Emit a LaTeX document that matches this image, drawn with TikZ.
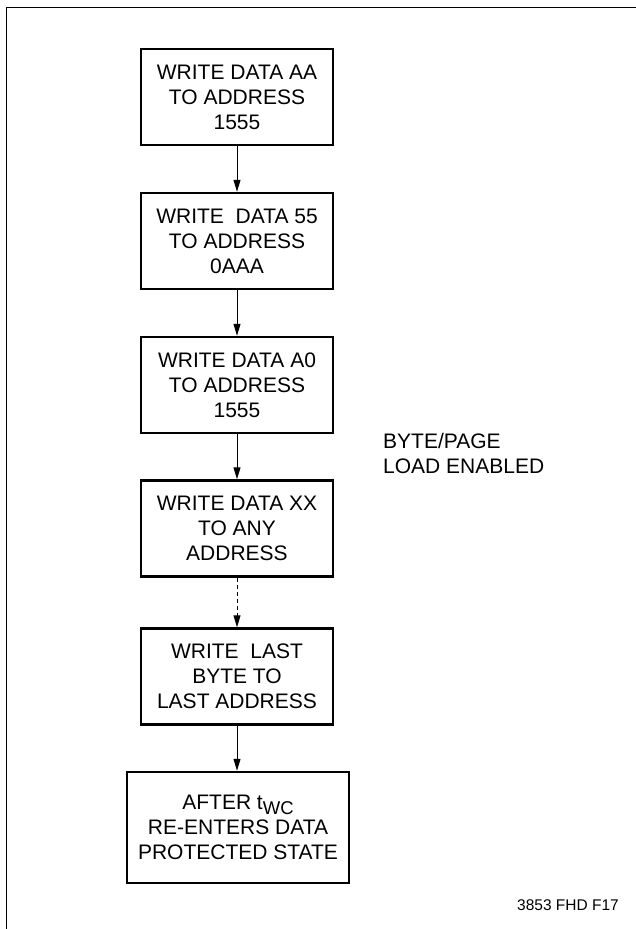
\documentclass[tikz,border=0pt]{standalone}
\usepackage{fontspec}
\setmainfont{Liberation Sans}
\usepackage{tikz}
\usetikzlibrary{arrows.meta}
\newcommand{\subwc}[1]{\raisebox{-5pt}{\fontsize{18.5}{18.5}\selectfont #1}}

\tikzset{
  stepbox/.style={draw, line width=2.5pt, align=center, inner sep=0pt,
    minimum width=192pt, minimum height=96pt, font=\fontsize{21}{25}\selectfont},
  flow/.style={line width=1pt, -{Triangle[length=12pt,width=7pt]}},
}

\begin{document}
\begin{tikzpicture}[x=1pt,y=-1pt]
\useasboundingbox (0,0) rectangle (636,929);
\draw[line width=1.8pt] (636,7.5) -- (6.5,7.5) -- (6.5,929);
\path (237,97) node[stepbox] (aa) {WRITE DATA AA\\TO ADDRESS\\1555};
\path (237,241) node[stepbox] (fivefive) {WRITE\ \ DATA 55\\TO ADDRESS\\0AAA};
\path (237,385) node[stepbox] (azero) {WRITE DATA A0\\TO ADDRESS\\1555};
\path (237,528.5) node[stepbox] (xx) {WRITE DATA XX\\TO ANY\\ADDRESS};
\path (237,676.5) node[stepbox] (last) {WRITE\ \ LAST\\BYTE TO\\LAST ADDRESS};
\path (238,827.5) node[stepbox, minimum width=222pt, minimum height=111pt] (done)
  {AFTER t\subwc{WC}\\RE-ENTERS DATA\\PROTECTED STATE};
%\path (383,452) node {BYTE/PAGE};
\path (383,453) node[anchor=west, align=left, inner sep=0pt,
  font=\fontsize{21}{25}\selectfont] (load) {BYTE/PAGE\\LOAD ENABLED};
\path (619,910) node[anchor=base east, inner sep=0pt,
  font=\fontsize{15.5}{18}\selectfont] (fig) {3853 FHD F17};
\draw[flow] (aa) -- (fivefive);
\draw[flow] (fivefive) -- (azero);
\draw[flow] (azero) -- (xx);
\draw[flow, dash pattern=on 4pt off 3pt] (xx) -- (last);
\draw[flow] (last) -- (done.north -| last.south);
\end{tikzpicture}
\end{document}
